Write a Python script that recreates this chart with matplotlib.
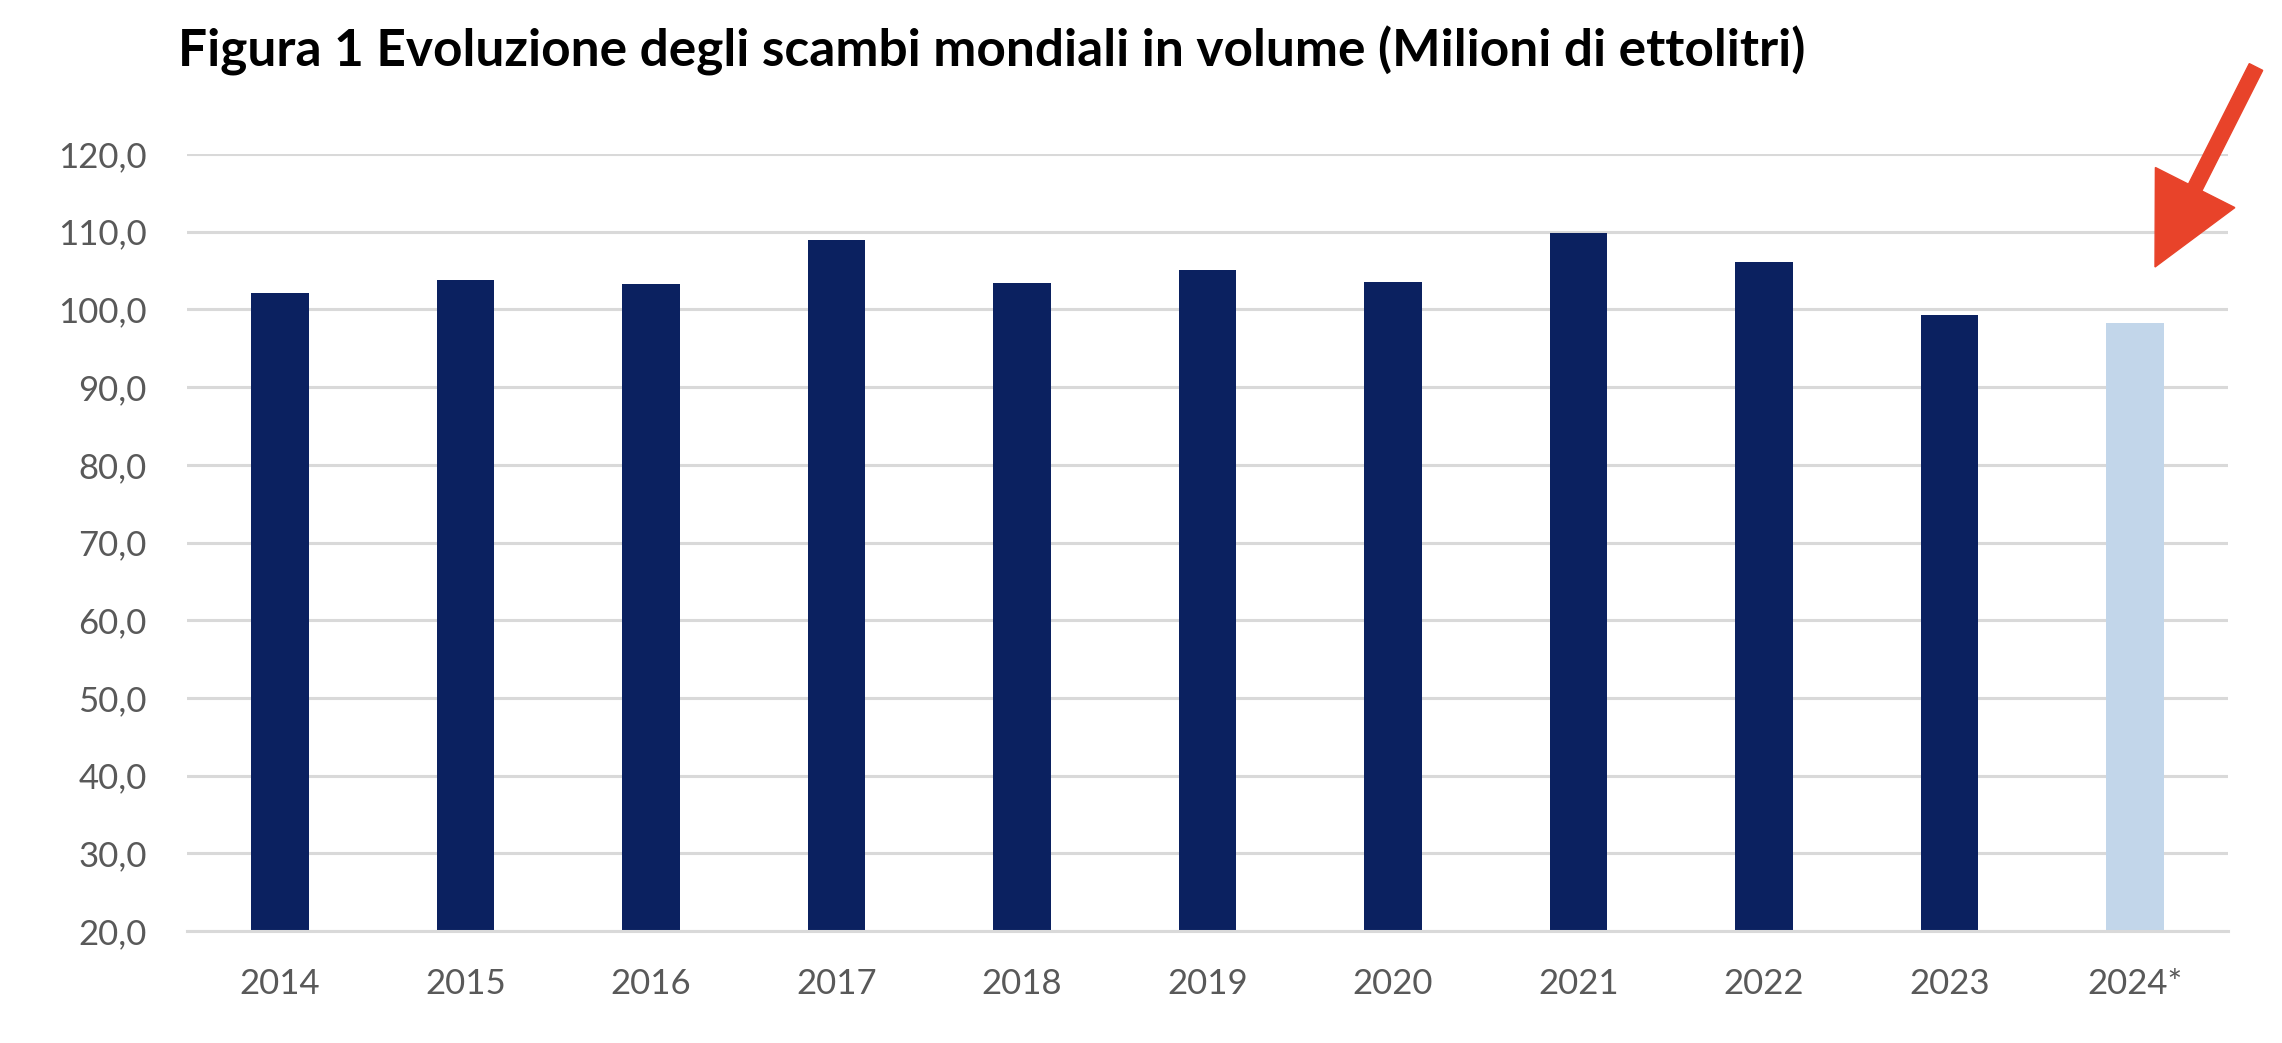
import matplotlib
matplotlib.use("Agg")
import matplotlib.pyplot as plt
from matplotlib.patches import FancyArrow
import numpy as np

# data
years = ["2014", "2015", "2016", "2017", "2018", "2019", "2020", "2021", "2022", "2023", "2024*"]
volumes = [102.1, 103.8, 103.3, 109.0, 103.4, 105.1, 103.5, 109.8, 106.1, 99.3, 98.3]
y_ticks = [20, 30, 40, 50, 60, 70, 80, 90, 100, 110, 120]
title = "Figura 1 Evoluzione degli scambi mondiali in volume (Milioni di ettolitri)"

dark = "#0B2160"
light = "#C2D6EA"
grid_col = "#D9D9D9"
label_col = "#595959"
arrow_col = "#E8432A"

plt.rcParams['font.family'] = ['Lato', 'DejaVu Sans']

fig = plt.figure(figsize=(22.82, 10.43), dpi=100)
ax = fig.add_axes([0.082, 0.1074, 0.8943, 0.7449])

x = np.arange(len(years))
colors = [dark] * (len(years) - 1) + [light]
ax.bar(x, [v - 20 for v in volumes], bottom=20, width=0.31, color=colors, zorder=3)

ax.set_xlim(-0.5, len(years) - 0.5)
ax.set_ylim(20, 120)
ax.set_yticks(y_ticks)
ax.set_yticklabels([("%.1f" % t).replace(".", ",") for t in y_ticks])
ax.set_xticks(x)
ax.set_xticklabels(years)

ax.yaxis.grid(True, color=grid_col, linewidth=2.2, zorder=0)
for s in ["top", "right", "left"]:
    ax.spines[s].set_visible(False)
ax.spines["bottom"].set_color(grid_col)
ax.spines["bottom"].set_linewidth(2.2)
ax.spines["bottom"].set_zorder(4)

ax.tick_params(axis="both", length=0, labelsize=25, labelcolor=label_col)
ax.tick_params(axis="y", pad=29)
ax.tick_params(axis="x", pad=27)

fig.text(0.078, 0.951, title, fontsize=37, fontweight="bold", color="black",
         ha="left", va="center")

# red arrow pointing at the 2024 estimate (figure pixels / 100 = inches)
H = 10.43
tail = (22.56, H - 0.67)
tip = (21.55, H - 2.67)
arr = FancyArrow(tail[0], tail[1], tip[0] - tail[0], tip[1] - tail[1],
                 width=0.15, head_width=0.89, head_length=0.89,
                 length_includes_head=True, color=arrow_col,
                 transform=fig.dpi_scale_trans, zorder=10)
fig.patches.append(arr)

fig.savefig("out.png", dpi=100)
